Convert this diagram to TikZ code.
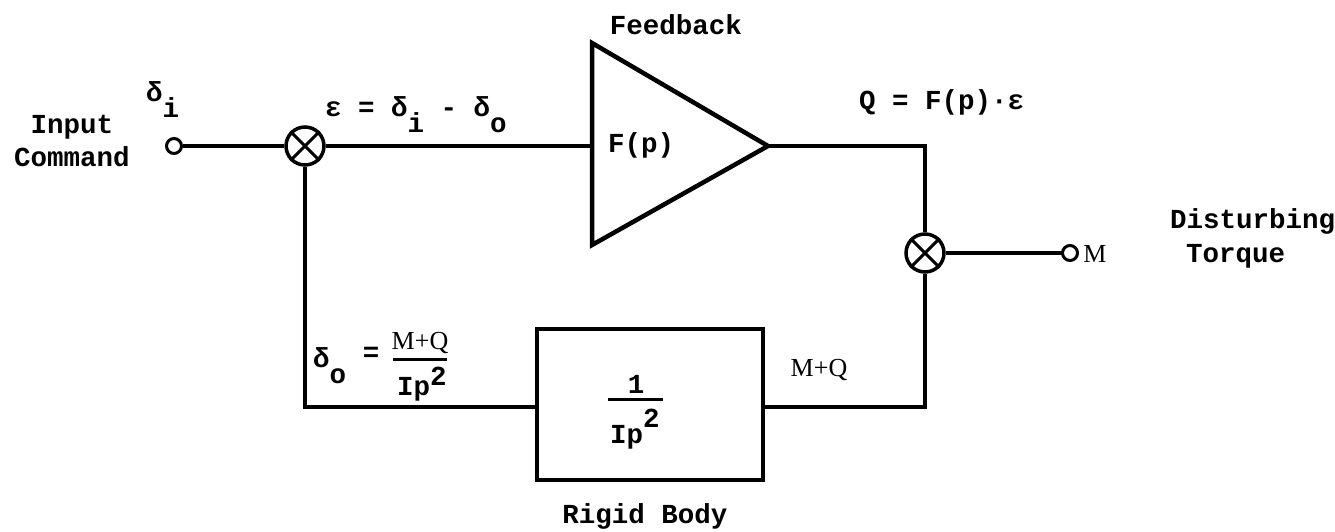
\documentclass[tikz,border=0pt]{standalone}
\usepackage{fontspec}
\setmainfont{Liberation Mono}
\newfontfamily\serifM{Liberation Serif}
\newcommand{\sbx}[1]{\raisebox{-16pt}{#1}}
\tikzset{
  wire/.style={line width=4pt},
  tri/.style={line width=4.5pt, line join=miter},
  junc/.style={circle, draw, line width=3.5pt, minimum size=38pt, inner sep=0pt},
  port/.style={circle, draw, line width=3pt, minimum size=15pt, inner sep=0pt, fill=white},
  box/.style={draw, line width=4.5pt, minimum width=226pt, minimum height=151pt, inner sep=0pt},
  bar/.style={line width=3pt},
  lbl/.style={inner sep=0pt, outer sep=0pt},
  ser/.style={font=\fontsize{26}{30}\selectfont\serifM},
}
\begin{document}
\begin{tikzpicture}[x=1pt,y=-1pt, font=\fontsize{27.5}{33}\selectfont\bfseries]
\useasboundingbox (0,0) rectangle (1335,532);
% blocks
\node[port] (inp) at (174,146) {};
\node[junc] (s1) at (305,146) {};
\draw[line width=3pt] (s1.north east) -- (s1.south west) (s1.north west) -- (s1.south east);
\coordinate (ampT) at (592,43);
\coordinate (ampB) at (592,245);
\coordinate (ampin) at (592,146);
\coordinate (ampout) at (768,146);
\draw[tri] (ampT) -- (ampout) -- (ampB) -- cycle;
\coordinate (c1) at (925,146);
\node[junc] (s2) at (925,253) {};
\draw[line width=3pt] (s2.north east) -- (s2.south west) (s2.north west) -- (s2.south east);
\node[box] (body) at (650,404.5) {};
\coordinate (c2) at (925,407);
\coordinate (c3) at (305,407);
% connectors
\draw[wire] (inp.east) -- (s1.west);
\draw[wire] (s1.east) -- (ampin);
\draw[wire, line join=miter] (ampout) -- (c1) -- (s2.north);
\draw[wire] (s2.east) -- (1063,253);
\node[port] (mport) at (1070,253) {};
\draw[wire, line join=miter] (s2.south) -- (c2) -- (c2 -| body.east);
\draw[wire, line join=miter] (c3 -| body.west) -- (c3) -- (s1.south);
% labels
\node[lbl, anchor=base] (lin1) at (72,133) {Input};
\node[lbl, anchor=base] (lin2) at (72,166) {Command};
\node[lbl, anchor=base west] (ldi) at (146,102) {δ\sbx{i}};
\node[lbl, anchor=base] (lfb) at (676,35) {Feedback};
\node[lbl, anchor=base west] (lfp) at (608,152) {F(p)};
\node[lbl, anchor=base west] (leps) at (325,117) {ε = δ\sbx{i} - δ\sbx{o}};
\node[lbl, anchor=base west] (lq) at (859,110) {Q = F(p)·ε};
\node[lbl, ser, anchor=base] (lm) at (1095,262) {M};
\node[lbl, anchor=base west] (ldist) at (1170,228) {Disturbing};
\node[lbl, anchor=base west] (ltq) at (1186,262) {Torque};
\node[lbl, ser, anchor=base] (lmq) at (819,376) {M+Q};
% delta_o equation
\node[lbl, anchor=base west] (ldo) at (313,367) {δ\sbx{o}};
\node[lbl, anchor=base] (leq) at (371,361) {=};
\node[lbl, ser, anchor=base] (lnum) at (420,349) {M+Q};
\draw[bar] (393,359) -- (447,359);
\node[lbl, anchor=base west] (lden) at (397,395) {Ip\raisebox{10pt}{2}};
% box fraction
\node[lbl, anchor=base] (lone) at (636,393) {1};
\draw[bar] (608,399) -- (663,399);
\node[lbl, anchor=base west] (lden2) at (610,443) {Ip\raisebox{16pt}{2}};
\node[lbl, anchor=base] (lrb) at (645,523) {Rigid Body};
\end{tikzpicture}
\end{document}
